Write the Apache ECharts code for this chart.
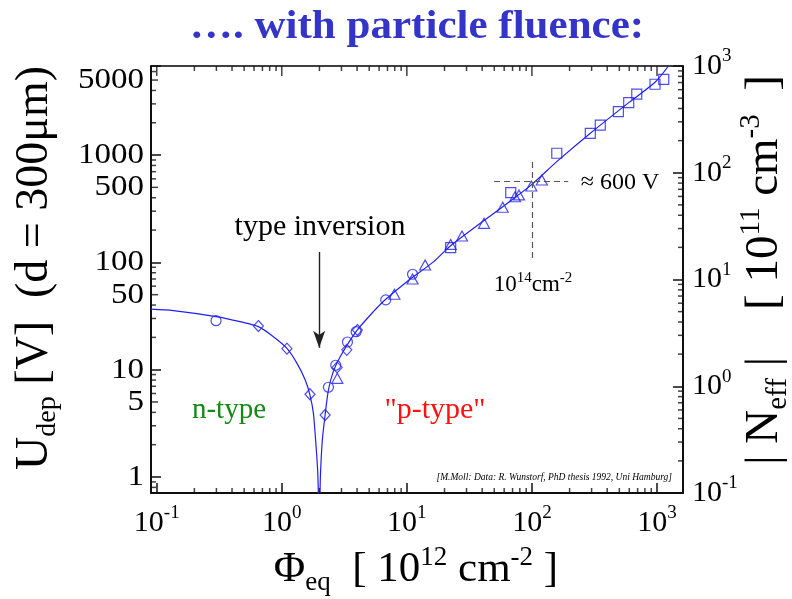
<!DOCTYPE html>
<html>
<head>
<meta charset="utf-8">
<script src="https://cdn.jsdelivr.net/npm/echarts@6/dist/echarts.min.js"></script>
<style>
  html, body { margin: 0; padding: 0; background: #fff; }
  #main { width: 792px; height: 599px; }
</style>
</head>
<body>
<div id="main"></div>
<script>
// values: [fluence in 1e12 cm^-2, U_dep in V]
const circles = [[0.298, 28.6], [2.36, 6.86], [2.70, 11.0], [3.35, 18.1], [3.93, 22.6], [6.78, 44.7], [11.1, 77.5]];
const diamonds = [[0.65, 25.5], [1.10, 15.7], [1.68, 5.9], [2.22, 3.78], [2.77, 10.5], [3.31, 15.3], [4.02, 23.4]];
const triangles = [[2.78, 8.3], [7.95, 50.4], [11.1, 70], [14.0, 94.6], [22.4, 147], [27.6, 176], [41.4, 231],
  [58.4, 326], [73.3, 409], [78.8, 425], [98.9, 515], [120, 586]];
const squares = [[22.4, 137], [67.7, 447], [158, 1040], [293, 1596], [352, 1905], [491, 2540], [594, 3080],
  [689, 3690], [964, 4570], [1132, 5080]];
const fitCurve = [[0.09, 36.6], [0.136, 35.5], [0.298, 31.2], [0.464, 28.0], [0.65, 25.2], [0.857, 20.3], [1.10, 15.8],
  [1.32, 11.5], [1.54, 8.0], [1.68, 5.8], [1.79, 3.92], [1.88, 1.92], [1.94, 1.08], [1.99, 0.4], [2.04, 1.08],
  [2.11, 2.21], [2.22, 3.78], [2.36, 6.47], [2.58, 9.58], [2.93, 13.2], [3.98, 23.1], [5.40, 34.7], [6.78, 45.3],
  [10.0, 66.1], [16.3, 101], [22.4, 143], [58.4, 330], [98.9, 527], [158, 868], [293, 1596], [594, 3080],
  [964, 4770], [1232, 6761]];

// 10^14 cm^-2 marker lines
const guideH = [[49.8, 565], [195, 565]];
const guideV = [[100, 861], [100, 105]];
const inversionArrow = [[1.99, 125], [1.99, 16]];

const xRange = [0.09, 1614];
const yRange = [0.709, 6761];
const nRange = [0.1, 1000];
const xDecades = [0.1, 1, 10, 100, 1000];
const yDecades = [1, 10, 100, 1000];
const yFives = [5, 50, 500, 5000];
const nDecades = [0.1, 1, 10, 100, 1000];
const yLabels = [1, 5, 10, 50, 100, 500, 1000, 5000];

const serif = '"Liberation Serif", "DejaVu Serif", serif';
const blue = '#2020f0';

// 2..9 minor tick values inside a range
function minorList(decades, lo, hi, skipFive) {
  let out = [];
  decades.concat([decades[0] / 10]).forEach(function (d) {
    for (let k = 2; k <= 9; k++) {
      let v = k * d;
      if (skipFive && k === 5) continue;
      if (v > lo && v < hi) out.push(v);
    }
  });
  return out;
}

// one row of ticks drawn as thin rect symbols sitting on a plot edge
function tickRow(values, side, len, yIndex) {
  let data, size, offset;
  if (side === 'bottom' || side === 'top') {
    const y = side === 'bottom' ? yRange[0] : yRange[1];
    data = values.map(function (v) { return [v, y]; });
    size = [1.5, len];
    offset = [0, side === 'bottom' ? -len / 2 : len / 2];
  } else {
    const x = side === 'left' ? xRange[0] : xRange[1];
    data = values.map(function (v) { return [x, v]; });
    size = [len, 1.5];
    offset = [side === 'left' ? len / 2 : -len / 2, 0];
  }
  return {
    type: 'scatter', data: data, yAxisIndex: yIndex || 0, symbol: 'rect', symbolSize: size, symbolOffset: offset,
    itemStyle: { color: '#111' }, clip: false, z: 5
  };
}

function renderLeftLabel(params, api) {
  const cs = params.coordSys;
  const p = api.coord([api.value(0), api.value(1)]);
  return {
    type: 'text', x: cs.x - 7, y: p[1], scaleX: 1.1,
    style: { text: String(api.value(1)), font: '30px ' + serif, fill: '#000', align: 'right', verticalAlign: 'middle' }
  };
}

function powLabel(v) {
  const n = Math.round(Math.log10(v));
  if (Math.abs(Math.log10(v) - n) > 0.01) return '';
  return '10{sup|' + n + '}';
}
const supRich = { sup: { fontSize: 19, lineHeight: 19, verticalAlign: 'top', fontFamily: serif, color: '#000' } };
const blackLine = { show: true, lineStyle: { color: '#000', width: 1.5 } };
const majorTick = { show: true, inside: true, length: 10, lineStyle: { color: '#111', width: 1.5 } };

function markers(name, data, symbol, size) {
  return {
    name: name, type: 'scatter', data: data, symbol: symbol, symbolSize: size,
    itemStyle: { color: 'transparent', borderColor: blue, borderWidth: 1.2 }
  };
}

const xMinor = minorList(xDecades, xRange[0], xRange[1]);
const yMinor = minorList(yDecades, yRange[0], yRange[1], true);
const nMinor = minorList(nDecades, nRange[0], nRange[1]);

const chart = echarts.init(document.getElementById('main'));

const option = {
  animation: false,
  backgroundColor: '#fff',
  grid: { left: 151, right: 109, top: 66, bottom: 106, show: true, borderColor: '#000', borderWidth: 1.5 },
  xAxis: {
    type: 'log', logBase: 10, min: xRange[0], max: xRange[1],
    axisLine: blackLine, axisTick: majorTick, splitLine: { show: false },
    axisLabel: {
      formatter: powLabel, rich: supRich, margin: 11,
      fontSize: 30, lineHeight: 38, fontFamily: serif, color: '#000',
      showMinLabel: false, showMaxLabel: false
    }
  },
  yAxis: [{
    type: 'log', logBase: 10, min: yRange[0], max: yRange[1],
    axisLine: blackLine, axisTick: majorTick, splitLine: { show: false }, axisLabel: { show: false }
  }, {
    type: 'log', logBase: 10, min: nRange[0], max: nRange[1], position: 'right',
    axisLine: blackLine, axisTick: majorTick, splitLine: { show: false },
    axisLabel: {
      formatter: powLabel, rich: supRich, margin: 9,
      fontSize: 30, lineHeight: 38, fontFamily: serif, color: '#000'
    }
  }],
  series: [
    tickRow(xMinor, 'bottom', 5),
    tickRow(xDecades, 'top', 10),
    tickRow(xMinor, 'top', 5),
    tickRow(yFives, 'left', 7),
    tickRow(yMinor, 'left', 5),
    tickRow(nMinor, 'right', 5, 1),
    {
      type: 'custom', renderItem: renderLeftLabel, clip: false, silent: true,
      data: yLabels.map(function (v) { return [xRange[0], v]; })
    },
    {
      name: 'fit', type: 'line', data: fitCurve, showSymbol: false, smooth: 0.25, clip: true,
      lineStyle: { color: blue, width: 1.2 },
      markLine: {
        silent: true, symbol: ['none', 'none'], animation: false,
        label: { show: false },
        lineStyle: { color: '#555', type: [6, 4], width: 1.2 },
        data: [
          [{ coord: guideH[0] }, { coord: guideH[1] }],
          [{ coord: guideV[0] }, { coord: guideV[1] }]
        ]
      }
    },
    {
      name: 'arrow', type: 'line', data: [], markLine: {
        silent: true, symbol: ['none', 'arrow'], symbolSize: [9, 17], animation: false,
        label: { show: false },
        lineStyle: { color: '#222', type: 'solid', width: 1.4 },
        data: [[{ coord: inversionArrow[0] }, { coord: inversionArrow[1] }]]
      }
    },
    markers('circles', circles, 'circle', 10),
    markers('diamonds', diamonds, 'diamond', [10, 11]),
    markers('triangles', triangles, 'triangle', [11, 10]),
    markers('squares', squares, 'rect', 10)
  ],
  graphic: [
    {
      type: 'text', x: 417, y: 27, scaleX: 1.05,
      style: { text: '…. with particle fluence:', font: 'bold 41px ' + serif, fill: '#3434c8', align: 'center', verticalAlign: 'middle' }
    },
    {
      type: 'text', x: 35, y: 268, rotation: Math.PI / 2,
      style: {
        text: '{m|U}{s|dep}{m| [V]  (d = 300μm)}', align: 'center', verticalAlign: 'middle',
        rich: {
          m: { fontSize: 46, lineHeight: 54, fontFamily: serif, color: '#000' },
          s: { fontSize: 28, lineHeight: 28, fontFamily: serif, color: '#000', verticalAlign: 'bottom' }
        }
      }
    },
    {
      type: 'text', x: 765, y: 270, rotation: Math.PI / 2,
      style: {
        text: '{m|| N}{s|eff}{m| |    [ 10}{p|11}{m| cm}{p|-3}{m|  ]}', align: 'center', verticalAlign: 'middle',
        rich: {
          m: { fontSize: 47, lineHeight: 56, fontFamily: serif, color: '#000' },
          s: { fontSize: 29, lineHeight: 29, fontFamily: serif, color: '#000', verticalAlign: 'bottom' },
          p: { fontSize: 29, lineHeight: 29, fontFamily: serif, color: '#000', verticalAlign: 'top' }
        }
      }
    },
    {
      type: 'text', x: 416, y: 570,
      style: {
        text: '{m|Φ}{s|eq}{m|  [ 10}{p|12}{m| cm}{p|-2}{m| ]}', align: 'center', verticalAlign: 'middle',
        rich: {
          m: { fontSize: 43, lineHeight: 52, fontFamily: serif, color: '#000' },
          s: { fontSize: 27, lineHeight: 27, fontFamily: serif, color: '#000', verticalAlign: 'bottom' },
          p: { fontSize: 27, lineHeight: 27, fontFamily: serif, color: '#000', verticalAlign: 'top' }
        }
      }
    },
    {
      type: 'text', x: 320, y: 227,
      style: { text: 'type inversion', font: '30px ' + serif, fill: '#000', align: 'center', verticalAlign: 'middle' }
    },
    {
      type: 'text', x: 229, y: 410,
      style: { text: 'n-type', font: '29px ' + serif, fill: '#138a13', align: 'center', verticalAlign: 'middle' }
    },
    {
      type: 'text', x: 435, y: 410,
      style: { text: '"p-type"', font: '30px ' + serif, fill: '#ff1010', align: 'center', verticalAlign: 'middle' }
    },
    {
      type: 'text', x: 620, y: 183,
      style: { text: '≈ 600 V', font: '24px ' + serif, fill: '#000', align: 'center', verticalAlign: 'middle' }
    },
    {
      type: 'text', x: 533, y: 285,
      style: {
        text: '{m|10}{p|14}{m|cm}{p|-2}', align: 'center', verticalAlign: 'middle',
        rich: {
          m: { fontSize: 23, lineHeight: 29, fontFamily: serif, color: '#000' },
          p: { fontSize: 15, lineHeight: 15, fontFamily: serif, color: '#000', verticalAlign: 'top' }
        }
      }
    },
    {
      type: 'text', x: 672, y: 477,
      style: {
        text: '[M.Moll: Data: R. Wunstorf, PhD thesis 1992, Uni Hamburg]',
        font: 'italic 9.5px ' + serif, fill: '#000', align: 'right', verticalAlign: 'middle'
      }
    }
  ]
};

chart.setOption(option);
</script>
</body>
</html>
